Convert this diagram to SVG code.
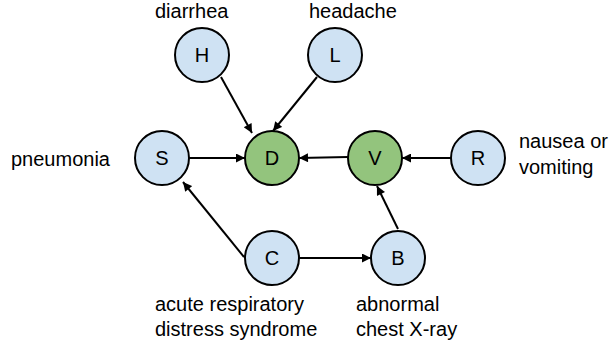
<svg xmlns="http://www.w3.org/2000/svg" width="610" height="349" viewBox="0 0 610 349">
<style>
.n{stroke:#000;stroke-width:2}
.b{fill:#cfe2f3}
.g{fill:#93c47d}
.l{font-family:"Liberation Sans",Arial,sans-serif;font-size:20px;fill:#000}
.c{font-family:"Liberation Sans",Arial,sans-serif;font-size:20px;fill:#000;text-anchor:middle}
.e{stroke:#000;stroke-width:2;fill:none;marker-end:url(#a)}
</style>
<defs>
<marker id="a" viewBox="0 0 10 10" refX="10" refY="5" markerWidth="11" markerHeight="9" markerUnits="userSpaceOnUse" orient="auto">
<path d="M0,0 L10,5 L0,10 z" fill="#000"/>
</marker>
</defs>
<rect width="610" height="349" fill="#fff"/>
<g id="edges">
<line class="e" x1="221" y1="77" x2="252" y2="133"/>
<line class="e" x1="317" y1="77" x2="273" y2="131"/>
<line class="e" x1="189" y1="158" x2="245" y2="158"/>
<line class="e" x1="348" y1="157" x2="299" y2="158"/>
<line class="e" x1="451" y1="158" x2="402" y2="158"/>
<line class="e" x1="398" y1="229" x2="377" y2="186"/>
<line class="e" x1="244" y1="257" x2="183" y2="182"/>
<line class="e" x1="299" y1="258" x2="371" y2="258"/>
</g>
<g id="H"><circle class="n b" cx="202" cy="55" r="27"/><text class="c" x="202" y="62">H</text><text class="l" x="155" y="18">diarrhea</text></g>
<g id="L"><circle class="n b" cx="335" cy="55" r="27"/><text class="c" x="335" y="62">L</text><text class="l" x="309" y="18">headache</text></g>
<g id="S"><circle class="n b" cx="162" cy="158" r="27"/><text class="c" x="162" y="165">S</text><text class="l" x="11" y="166">pneumonia</text></g>
<g id="D"><circle class="n g" cx="272" cy="158" r="27"/><text class="c" x="272" y="165">D</text></g>
<g id="V"><circle class="n g" cx="375" cy="158" r="27"/><text class="c" x="375" y="165">V</text></g>
<g id="R"><circle class="n b" cx="478" cy="158" r="27"/><text class="c" x="478" y="165">R</text><text class="l" x="519" y="148">nausea or</text><text class="l" x="519" y="174">vomiting</text></g>
<g id="C"><circle class="n b" cx="272" cy="258" r="27"/><text class="c" x="272" y="265">C</text><text class="l" x="155" y="311">acute respiratory</text><text class="l" x="155" y="336">distress syndrome</text></g>
<g id="B"><circle class="n b" cx="398" cy="258" r="27"/><text class="c" x="398" y="265">B</text><text class="l" x="356" y="311">abnormal</text><text class="l" x="356" y="336">chest X-ray</text></g>
</svg>
